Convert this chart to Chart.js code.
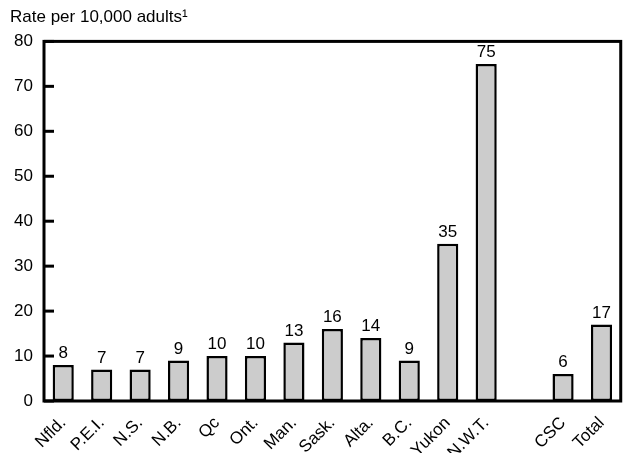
<!DOCTYPE html>
<html>
<head>
<meta charset="utf-8">
<script src="https://cdn.jsdelivr.net/npm/chart.js@4/dist/chart.umd.min.js"></script>
<style>
  html, body { margin: 0; padding: 0; background: #fff; }
  #wrap { width: 628px; height: 453px; }
</style>
</head>
<body>
<div id="wrap"><canvas id="c" width="628" height="453"></canvas></div>
<script>
// Jurisdictions (blank slot separates the provinces/territories from CSC and Total)
const categories = ['Nfld.', 'P.E.I.', 'N.S.', 'N.B.', 'Qc', 'Ont.', 'Man.', 'Sask.', 'Alta.', 'B.C.', 'Yukon', 'N.W.T.', '', 'CSC', 'Total'];
// Rate per 10,000 adults
const rates = [8, 7, 7, 9, 10, 10, 13, 16, 14, 9, 35, 75, null, 6, 17];
const yTicks = [0, 10, 20, 30, 40, 50, 60, 70, 80];

const FONT = '"Liberation Sans", Arial, Helvetica, sans-serif';

// Box around the plot area plus short inward tick marks on the left side
const framePlugin = {
  id: 'frame',
  afterDraw(chart) {
    const { ctx, chartArea: a } = chart;
    const y = chart.scales.y;
    ctx.save();
    ctx.strokeStyle = '#000';
    ctx.lineWidth = 3;
    ctx.strokeRect(a.left, a.top, a.right - a.left, a.bottom - a.top);
    yTicks.forEach(v => {
      const py = y.getPixelForValue(v);
      ctx.beginPath();
      ctx.moveTo(a.left, py);
      ctx.lineTo(a.left + 10, py);
      ctx.stroke();
    });
    ctx.restore();
  }
};

// Value printed above each bar
const valueLabels = {
  id: 'valueLabels',
  afterDatasetsDraw(chart) {
    const { ctx } = chart;
    const meta = chart.getDatasetMeta(0);
    ctx.save();
    ctx.font = '17px ' + FONT;
    ctx.fillStyle = '#000';
    ctx.textAlign = 'center';
    ctx.textBaseline = 'alphabetic';
    meta.data.forEach((bar, i) => {
      const v = rates[i];
      if (v == null) return;
      ctx.fillText(String(v), bar.x, bar.y - 7);
    });
    ctx.restore();
  }
};

new Chart(document.getElementById('c'), {
  type: 'bar',
  data: {
    labels: categories,
    datasets: [{
      data: rates,
      backgroundColor: '#cccccc',
      borderColor: '#000',
      borderWidth: 2.5,
      borderSkipped: false,
      categoryPercentage: 1,
      barPercentage: 0.55
    }]
  },
  options: {
    responsive: false,
    animation: false,
    events: [],
    layout: { padding: { left: 10, right: 2, top: 0, bottom: 0 } },
    plugins: {
      legend: { display: false },
      tooltip: { enabled: false },
      title: {
        display: true,
        text: 'Rate per 10,000 adults¹',
        align: 'start',
        color: '#000',
        font: { family: FONT, size: 17, weight: 'normal' },
        padding: { top: 7, bottom: 14 }
      }
    },
    scales: {
      y: {
        min: 0,
        max: 80,
        afterBuildTicks(scale) { scale.ticks = yTicks.map(v => ({ value: v })); },
        afterFit(scale) { scale.width = 34; },
        grid: { display: false, drawTicks: false, tickLength: 0 },
        border: { display: false },
        ticks: {
          color: '#000',
          font: { family: FONT, size: 17 },
          padding: 11
        }
      },
      x: {
        afterFit(scale) { scale.height = 52; },
        grid: { display: false, drawTicks: false, tickLength: 0 },
        border: { display: false },
        ticks: {
          color: '#000',
          font: { family: FONT, size: 17 },
          maxRotation: 45,
          minRotation: 45,
          autoSkip: false,
          padding: 12
        }
      }
    }
  },
  plugins: [framePlugin, valueLabels]
});
</script>
</body>
</html>
